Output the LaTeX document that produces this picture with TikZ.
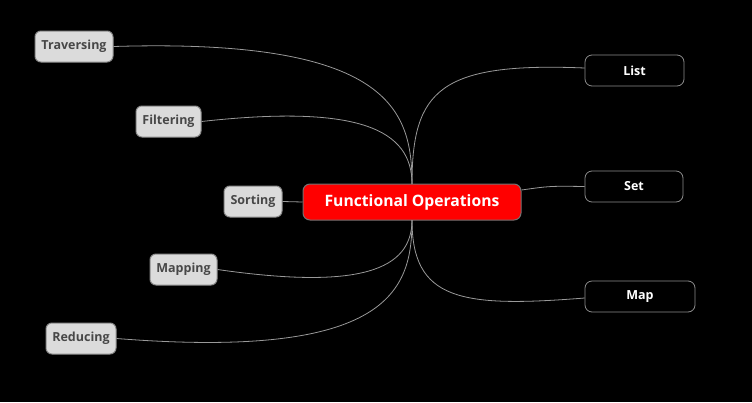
\documentclass[tikz,border=0pt]{standalone}
\usepackage{fontspec}
\setmainfont{Open Sans}
\begin{document}
\begin{tikzpicture}[x=1pt,y=-1pt,
  leftbox/.style={draw=black!45,line width=1pt,fill=black!14,text=black!72,rounded corners=6pt,font=\bfseries\fontsize{12.5}{14}\selectfont,inner sep=0pt,minimum height=31pt},
  rightbox/.style={draw=black!45,line width=0.8pt,fill=black,text=white,rounded corners=7pt,font=\bfseries\fontsize{12.5}{14}\selectfont,inner sep=0pt,minimum height=31pt},
  centralbox/.style={draw=black!55,line width=1pt,fill=red,text=white,rounded corners=7pt,font=\bfseries\fontsize{15.7}{19}\selectfont,inner sep=0pt,minimum height=36pt,minimum width=218pt},
  link/.style={draw=black!40,line width=0.8pt}]
\fill[black] (0,0) rectangle (752,402);
\useasboundingbox (0,0) rectangle (752,402);
\node[centralbox] (c) at (412,202) {Functional Operations};
\node[leftbox,minimum width=78pt] (trav) at (74,46.5) {Traversing};
\node[leftbox,minimum width=65pt] (filt) at (168.5,121.5) {Filtering};
\node[leftbox,minimum width=58pt] (sort) at (253,201.5) {Sorting};
\node[leftbox,minimum width=67pt] (mapp) at (183.5,269.5) {Mapping};
\node[leftbox,minimum width=70pt] (redu) at (81,338.5) {Reducing};
\node[rightbox,minimum width=99pt] (list) at (634.5,70.5) {List};
\node[rightbox,minimum width=98pt] (set) at (634,186.5) {Set};
\node[rightbox,minimum width=110pt] (map) at (640,296.5) {Map};
\coordinate (ct) at (412,184);
\coordinate (cb) at (412,220);
\draw[link] (trav.east) .. controls (390,38) and (412,110) .. (ct);
\draw[link] (filt.east) .. controls (360,104) and (412,130) .. (ct);
\draw[link] (sort.east) -- (c.west);
\draw[link] (mapp.east) .. controls (360,290) and (412,270) .. (cb);
\draw[link] (redu.east) .. controls (390,360) and (412,290) .. (cb);
\draw[link] (ct) .. controls (412,90) and (440,62) .. ([yshift=2.5pt]list.west);
\draw[link] ([yshift=12pt]c.east) .. controls (550,186) .. (set.west);
\draw[link] (cb) .. controls (412,300) and (460,308) .. ([yshift=-1.5pt]map.west);
\end{tikzpicture}
\end{document}
